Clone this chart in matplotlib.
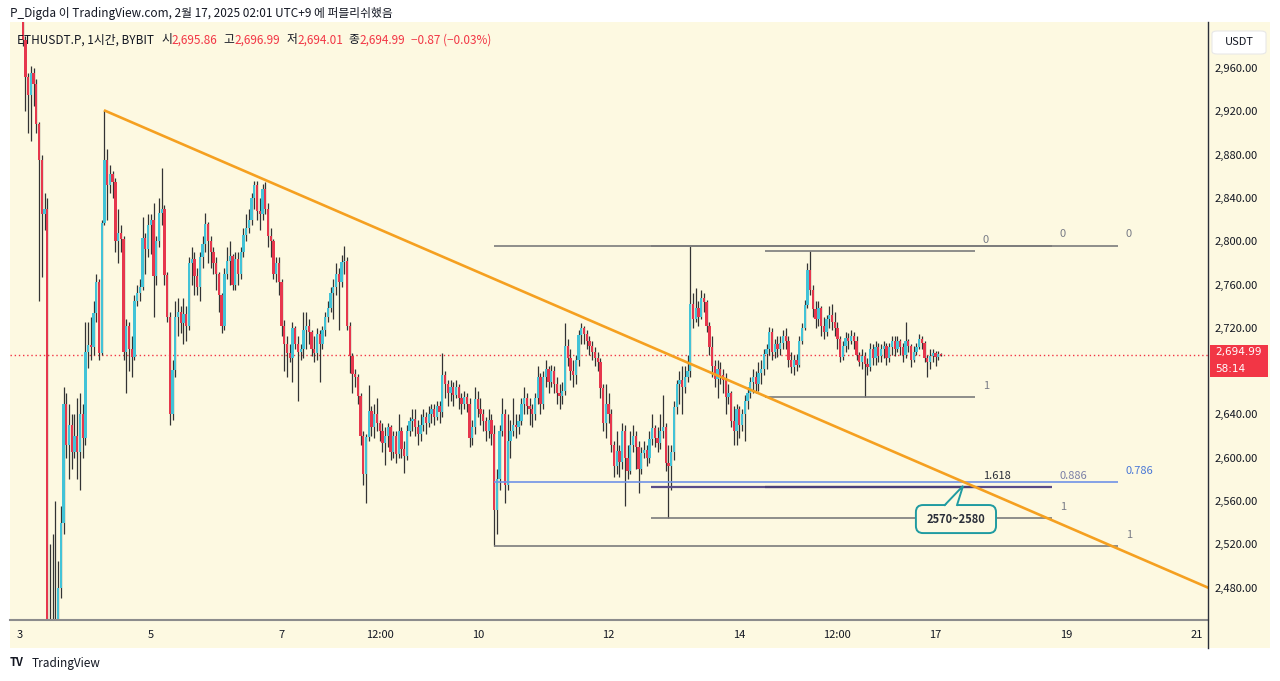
"""ETHUSDT.P 1h candles with trendline and fib levels (TradingView style)"""

import numpy as np
import matplotlib.pyplot as plt
from matplotlib.patches import Rectangle, FancyBboxPatch, Polygon
from matplotlib.lines import Line2D

plt.rcParams['font.family'] = ['Noto Sans CJK KR', 'DejaVu Sans']

W, H = 1280, 681
BG = '#fdf9e1'
UP = '#42c3d7'
DOWN = '#e6374d'
WICK = '#333333'
TXT = '#131722'
RED = '#f23645'

# hourly candles starting Feb 3 00:00 (UTC+9); open = previous close
first_open = 3030.0
closes = [
    3010, 2986, 2952, 2935, 2955, 2945, 2908, 2875, 2825, 2830, 2300, 2250, 2350, 2280, 2480, 2540, 2650, 2612, 2630, 2605, 2620, 2605, 2640, 2618,  # 3
    2698, 2704, 2702, 2734, 2762, 2697, 2817, 2875, 2852, 2862, 2855, 2800, 2808, 2802, 2698, 2722, 2700, 2693, 2745, 2752, 2758, 2803, 2793, 2815,  # 4
    2820, 2768, 2800, 2826, 2830, 2769, 2730, 2640, 2681, 2730, 2735, 2724, 2733, 2722, 2780, 2784, 2768, 2758, 2785, 2797, 2816, 2800, 2790, 2780,  # 5
    2770, 2750, 2722, 2770, 2782, 2786, 2760, 2784, 2770, 2790, 2806, 2812, 2820, 2840, 2852, 2828, 2825, 2848, 2830, 2805, 2800, 2770, 2780, 2762,  # 6
    2722, 2705, 2697, 2692, 2720, 2705, 2698, 2700, 2718, 2722, 2716, 2700, 2697, 2714, 2705, 2718, 2730, 2738, 2752, 2758, 2770, 2762, 2781, 2782,  # 7
    2722, 2694, 2677, 2675, 2657, 2620, 2585, 2619, 2643, 2628, 2640, 2632, 2625, 2614, 2620, 2628, 2605, 2620, 2603, 2625, 2608, 2602, 2625, 2634,  # 8
    2636, 2628, 2622, 2630, 2638, 2632, 2640, 2645, 2638, 2648, 2642, 2676, 2668, 2660, 2665, 2658, 2665, 2655, 2650, 2656, 2650, 2618, 2628, 2654,  # 9
    2645, 2640, 2634, 2625, 2635, 2622, 2552, 2580, 2625, 2640, 2575, 2615, 2625, 2630, 2628, 2634, 2650, 2655, 2648, 2645, 2640, 2655, 2675, 2650,  # 10
    2675, 2682, 2670, 2680, 2668, 2660, 2657, 2662, 2703, 2692, 2680, 2676, 2690, 2713, 2720, 2714, 2708, 2703, 2698, 2692, 2688, 2664, 2632, 2650,  # 11
    2640, 2612, 2592, 2606, 2596, 2625, 2600, 2588, 2612, 2620, 2610, 2590, 2604, 2607, 2600, 2617, 2627, 2618, 2614, 2625, 2628, 2595, 2592, 2605,  # 12
    2647, 2668, 2672, 2665, 2675, 2680, 2742, 2728, 2738, 2730, 2748, 2744, 2722, 2702, 2685, 2673, 2682, 2676, 2672, 2656, 2660, 2634, 2625, 2645,  # 13
    2630, 2640, 2652, 2660, 2670, 2675, 2668, 2678, 2682, 2696, 2700, 2716, 2698, 2705, 2700, 2706, 2712, 2708, 2690, 2684, 2690, 2686, 2708, 2720,  # 14
    2741, 2773, 2755, 2737, 2728, 2738, 2722, 2716, 2728, 2732, 2725, 2720, 2710, 2693, 2703, 2711, 2708, 2712, 2708, 2695, 2688, 2694, 2687, 2684,  # 15
    2700, 2692, 2702, 2694, 2700, 2703, 2692, 2702, 2708, 2700, 2708, 2702, 2695, 2708, 2703, 2690, 2698, 2702, 2710, 2706, 2692, 2688, 2694, 2697,  # 16
    2693, 2695.86, 2694.99,  # 17
]
highs = [
    3035, 3012, 2990, 2955, 2962, 2960, 2950, 2910, 2880, 2845, 2840, 2520, 2530, 2560, 2505, 2555, 2665, 2660, 2650, 2640, 2640, 2655, 2660, 2650,
    2725, 2725, 2730, 2745, 2770, 2765, 2820, 2921, 2885, 2870, 2865, 2858, 2830, 2815, 2805, 2728, 2725, 2712, 2750, 2760, 2765, 2822, 2808, 2825,
    2825, 2835, 2805, 2840, 2868, 2833, 2772, 2735, 2690, 2745, 2748, 2740, 2748, 2740, 2785, 2795, 2790, 2775, 2790, 2805, 2826, 2818, 2805, 2795,
    2785, 2772, 2752, 2775, 2795, 2800, 2788, 2790, 2790, 2795, 2812, 2825, 2830, 2845, 2856, 2856, 2840, 2853, 2855, 2835, 2812, 2802, 2785, 2785,
    2765, 2727, 2712, 2705, 2725, 2722, 2712, 2705, 2735, 2735, 2728, 2718, 2712, 2720, 2718, 2722, 2735, 2745, 2758, 2765, 2780, 2775, 2787, 2796,
    2785, 2725, 2697, 2682, 2677, 2660, 2625, 2622, 2667, 2648, 2650, 2655, 2635, 2632, 2628, 2632, 2630, 2625, 2625, 2640, 2628, 2615, 2630, 2638,
    2645, 2645, 2635, 2640, 2645, 2642, 2648, 2650, 2650, 2652, 2652, 2697, 2680, 2672, 2672, 2670, 2672, 2668, 2660, 2662, 2660, 2655, 2635, 2665,
    2662, 2655, 2645, 2638, 2645, 2640, 2630, 2590, 2630, 2655, 2645, 2640, 2635, 2655, 2640, 2640, 2655, 2665, 2660, 2655, 2650, 2660, 2685, 2678,
    2680, 2690, 2685, 2686, 2685, 2675, 2668, 2670, 2724, 2710, 2700, 2690, 2695, 2718, 2724, 2722, 2718, 2712, 2708, 2702, 2698, 2692, 2668, 2668,
    2660, 2645, 2615, 2625, 2612, 2632, 2630, 2612, 2625, 2630, 2625, 2615, 2610, 2615, 2612, 2625, 2640, 2630, 2628, 2640, 2658, 2632, 2612, 2612,
    2652, 2672, 2680, 2685, 2685, 2695, 2796, 2752, 2757, 2745, 2755, 2752, 2746, 2725, 2712, 2690, 2690, 2688, 2682, 2678, 2668, 2662, 2648, 2650,
    2648, 2645, 2658, 2665, 2675, 2682, 2680, 2688, 2690, 2700, 2705, 2721, 2720, 2710, 2712, 2712, 2718, 2720, 2712, 2698, 2695, 2696, 2712, 2724,
    2746, 2780, 2791, 2760, 2745, 2745, 2740, 2730, 2732, 2740, 2742, 2735, 2725, 2712, 2708, 2716, 2715, 2718, 2716, 2712, 2698, 2700, 2698, 2692,
    2706, 2705, 2708, 2706, 2705, 2708, 2706, 2706, 2712, 2712, 2712, 2710, 2706, 2725, 2710, 2705, 2703, 2706, 2714, 2712, 2708, 2695, 2700, 2700,
    2699, 2699, 2696.99,
]
lows = [
    3004, 2980, 2920, 2900, 2893, 2925, 2900, 2745, 2767, 2810, 2250, 2150, 2130, 2200, 2270, 2470, 2530, 2600, 2580, 2590, 2600, 2580, 2570, 2600,
    2612, 2683, 2690, 2695, 2725, 2690, 2695, 2815, 2820, 2845, 2840, 2790, 2780, 2790, 2690, 2660, 2680, 2675, 2690, 2740, 2745, 2755, 2770, 2785,
    2788, 2730, 2760, 2795, 2815, 2760, 2725, 2630, 2635, 2675, 2712, 2715, 2705, 2708, 2718, 2760, 2750, 2750, 2745, 2775, 2790, 2780, 2775, 2770,
    2755, 2735, 2715, 2718, 2765, 2760, 2755, 2755, 2760, 2765, 2785, 2800, 2808, 2815, 2830, 2820, 2810, 2820, 2825, 2795, 2785, 2765, 2762, 2750,
    2712, 2680, 2675, 2688, 2670, 2700, 2652, 2690, 2692, 2700, 2705, 2694, 2688, 2690, 2670, 2700, 2712, 2725, 2735, 2728, 2750, 2718, 2758, 2770,
    2718, 2678, 2660, 2665, 2650, 2612, 2575, 2558, 2615, 2620, 2618, 2625, 2615, 2605, 2593, 2610, 2598, 2600, 2595, 2600, 2600, 2586, 2598, 2620,
    2625, 2620, 2612, 2615, 2625, 2622, 2628, 2632, 2630, 2635, 2632, 2638, 2655, 2648, 2652, 2648, 2655, 2645, 2640, 2645, 2642, 2610, 2612, 2622,
    2638, 2630, 2625, 2615, 2618, 2612, 2518, 2530, 2570, 2620, 2558, 2570, 2600, 2620, 2618, 2622, 2630, 2640, 2640, 2630, 2628, 2635, 2650, 2640,
    2645, 2665, 2660, 2665, 2660, 2650, 2645, 2650, 2658, 2685, 2672, 2665, 2668, 2685, 2705, 2705, 2700, 2695, 2690, 2685, 2680, 2655, 2625, 2618,
    2632, 2605, 2582, 2585, 2582, 2590, 2555, 2580, 2585, 2605, 2590, 2567, 2585, 2600, 2592, 2595, 2612, 2610, 2605, 2608, 2618, 2588, 2544, 2570,
    2598, 2640, 2650, 2640, 2660, 2670, 2675, 2720, 2725, 2722, 2728, 2735, 2716, 2695, 2675, 2665, 2655, 2668, 2660, 2640, 2650, 2628, 2612, 2612,
    2618, 2625, 2615, 2645, 2655, 2660, 2660, 2662, 2668, 2676, 2682, 2695, 2690, 2692, 2693, 2695, 2700, 2700, 2684, 2678, 2676, 2680, 2684, 2705,
    2718, 2738, 2750, 2730, 2720, 2722, 2712, 2710, 2712, 2720, 2718, 2712, 2700, 2688, 2690, 2698, 2700, 2705, 2700, 2690, 2685, 2682, 2656, 2676,
    2680, 2686, 2686, 2688, 2688, 2692, 2686, 2688, 2695, 2694, 2698, 2695, 2688, 2692, 2698, 2684, 2688, 2695, 2700, 2700, 2688, 2675, 2682, 2688,
    2685, 2690, 2694.01,
]

# axis ticks (hours since Feb 3 00:00)
time_ticks = [0, 48, 96, 132, 168, 216, 264, 300, 336, 384, 432]
time_labels = ['3', '5', '7', '12:00', '10', '12', '14', '12:00', '17', '19', '21']
price_ticks = list(range(2480, 2961, 40))

# drawings: trendline anchors (hour, price)
trend_t = [30.8, 436.0]
trend_p = [2921.0, 2480.0]

# fib drawings: start hour, end hour, price at level 0, price at level 1, levels
fib_a = (174.0, 403.0, 2796.0, 2518.0, [0, 0.786, 1])
fib_b = (231.5, 378.7, 2796.0, 2544.0, [0, 0.886, 1])
fib_c = (273.4, 350.5, 2791.0, 2656.0, [0, 1, 1.618])
level_style = {
    0: ('#7b7b7b', '#787b86', 1.2),
    1: ('#7b7b7b', '#787b86', 1.2),
    0.786: ('#7092e6', '#4a78d6', 1.2),
    0.886: ('#5a4d88', '#7b7fa6', 1.6),
    1.618: ('#4a3f78', '#2a2e39', 1.6),
}

callout_text = '2570~2580'
callout_tip = (346.1, 2574.0)
countdown = '58:14'


def fx(px):
    return px / W


def fy(py):
    return 1 - py / H


fig = plt.figure(figsize=(W / 100, H / 100), dpi=100, facecolor='white')
fig.add_artist(Rectangle((fx(10), fy(648)), 1260 / W, 626 / H, transform=fig.transFigure,
                         fc=BG, ec='none', zorder=0))

ax = fig.add_axes([fx(10), fy(620), 1198 / W, 598 / H])
ax.set_facecolor('none')
ax.set_xlim(-3.67, 436.0)
ax.set_ylim(2450.1, 3002.5)
for s in ax.spines.values():
    s.set_visible(False)

# candles
c = np.array(closes, dtype=float)
hi = np.array(highs, dtype=float)
lo = np.array(lows, dtype=float)
o = np.r_[first_open, c[:-1]]
t = np.arange(len(c))
rising = c >= o
ax.vlines(t, lo, hi, color=WICK, lw=0.9, zorder=2)
body_lo = np.minimum(o, c)
body_h = np.maximum(np.abs(c - o), 0.8)
ax.bar(t, body_h, bottom=body_lo, width=0.84, color=np.where(rising, UP, DOWN),
       linewidth=0, zorder=3)

# current price line
ax.axhline(c[-1], color=RED, lw=1, ls=(0, (1, 2)), zorder=1)

# fib drawings
for start, end, p0, p1, levels in (fib_a, fib_b, fib_c):
    for lv in levels:
        price = p0 - lv * (p0 - p1)
        lc, tc, lw = level_style[lv]
        ax.hlines(price, start, end, color=lc, lw=lw, zorder=4)
        ax.text(end + 2.9, price + 10.5, f'{lv:g}', color=tc, fontsize=8,
                ha='left', va='center', zorder=6)

# trendline, extended to the right edge
slope = (trend_p[1] - trend_p[0]) / (trend_t[1] - trend_t[0])
t_end = ax.get_xlim()[1] + 5
ax.plot([trend_t[0], t_end], [trend_p[0], trend_p[0] + slope * (t_end - trend_t[0])],
        color='#f5a020', lw=1.9, solid_capstyle='butt', zorder=5)

# callout box
teal = '#1f9ba1'
bx0, bx1 = 328.8, 358.2
by0, by1 = 2530.4, 2556.3
box = FancyBboxPatch((bx0, by0), bx1 - bx0, by1 - by0,
                     boxstyle='round,pad=0,rounding_size=2.6', mutation_aspect=2.52,
                     fc=BG, ec=teal, lw=1.4, zorder=7)
ax.add_patch(box)
ax.add_patch(Polygon([(339.4, by1 - 1.3), callout_tip, (343.9, by1 - 1.3)],
                     closed=True, fc=BG, ec='none', zorder=8))
ax.plot([339.4, callout_tip[0], 343.9], [by1, callout_tip[1], by1], color=teal, lw=1.4,
        zorder=8, solid_joinstyle='miter')
ax.text((bx0 + bx1) / 2, (by0 + by1) / 2, callout_text, fontsize=8, fontweight='bold',
        color='#2a2e39', ha='center', va='center', zorder=9)

# axes ticks; the tick hidden under the last-price marker gets no label
ax.yaxis.tick_right()
ax.set_yticks(price_ticks)
ax.set_yticklabels(['' if abs(v - c[-1]) < 20 else f'{v:,.2f}' for v in price_ticks])
ax.set_xticks(time_ticks)
ax.set_xticklabels(time_labels)
ax.tick_params(axis='y', length=0, pad=5, labelsize=8, labelcolor=TXT)
ax.tick_params(axis='x', length=0, pad=7, labelsize=8, labelcolor=TXT)

# axis separators
fig.add_artist(Line2D([fx(10), fx(1208)], [fy(620), fy(620)], color='#8c8c8c', lw=1.5))
fig.add_artist(Line2D([fx(1208), fx(1208)], [fy(22), fy(648)], color='#2a2e39', lw=1))

# price label on the axis (price + bar countdown)
fig.add_artist(Rectangle((fx(1210), fy(377)), 58 / W, 32 / H, transform=fig.transFigure,
                         fc=RED, ec='none', zorder=5))
fig.text(fx(1215), fy(352.5), f'{c[-1]:,.2f}', color='white', fontsize=7.5,
         family='DejaVu Sans', va='center', ha='left', zorder=6)
fig.text(fx(1215), fy(369.5), countdown, color='white', fontsize=7.5,
         family='DejaVu Sans', va='center', ha='left', zorder=6)

# currency box
fig.add_artist(FancyBboxPatch((fx(1212), fy(54)), 54 / W, 23 / H, transform=fig.transFigure,
                              boxstyle='round,pad=0,rounding_size=0.004', fc='white',
                              ec='#e8e8e8', lw=0.8, zorder=5))
fig.text(fx(1239), fy(42), 'USDT', color=TXT, fontsize=8, ha='center', va='center', zorder=6)

# header
fig.text(fx(10), fy(13), 'P_Digda 이 TradingView.com, 2월 17, 2025 02:01 UTC+9 에 퍼블리쉬했음',
         fontsize=8.5, color=TXT, va='center', ha='left')

# symbol legend with OHLC values of the last candle
chg = c[-1] - c[-2]
parts = [
    ('ETHUSDT.P, 1시간, BYBIT', TXT, 0),
    ('시', TXT, 7),
    (f'{o[-1]:,.2f}', RED, 0),
    ('고', TXT, 6),
    (f'{hi[-1]:,.2f}', RED, 0),
    ('저', TXT, 6),
    (f'{lo[-1]:,.2f}', RED, 0),
    ('종', TXT, 6),
    (f'{c[-1]:,.2f}', RED, 0),
    (f'{chg:.2f} ({chg / c[-2] * 100:.2f}%)'.replace('-', '−'), RED, 6),
]
prev = None
for s, col, gap in parts:
    if prev is None:
        prev = ax.annotate(s, xy=(17, H - 40), xycoords='figure pixels', fontsize=8.5,
                           color=col, va='center', ha='left', annotation_clip=False, zorder=10)
    else:
        prev = ax.annotate(s, xy=(1, 0), xycoords=prev, xytext=(gap * 0.72, 0),
                           textcoords='offset points', fontsize=8.5, color=col,
                           va='bottom', ha='left', annotation_clip=False, zorder=10)

# footer logo
fig.text(fx(10), fy(663), 'TV', fontsize=8, fontweight='bold', color=TXT, va='center')
fig.text(fx(32), fy(663), 'TradingView', fontsize=8.5, color=TXT, va='center')

fig.savefig('out.png', dpi=100, facecolor='white')
